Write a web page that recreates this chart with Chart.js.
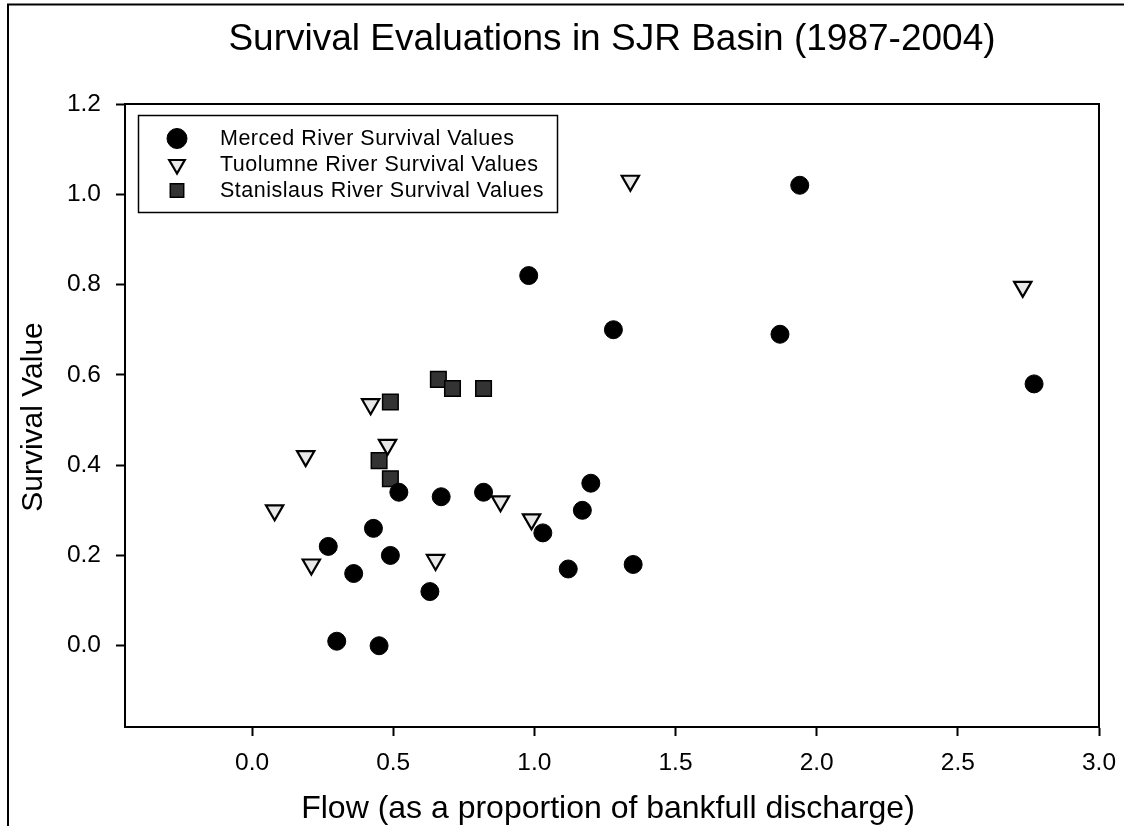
<!DOCTYPE html>
<html>
<head>
<meta charset="utf-8">
<script src="https://cdn.jsdelivr.net/npm/chart.js@4.4.1/dist/chart.umd.min.js"></script>
<style>
  html, body { margin: 0; padding: 0; background: #fff; }
  #c { display: block; }
</style>
</head>
<body>
<canvas id="c" width="1124" height="826"></canvas>
<script>
// ---- Data ----
const chartTitle = "Survival Evaluations in SJR Basin (1987-2004)";
const xTitle = "Flow (as a proportion of bankfull discharge)";
const yTitle = "Survival Value";
const seriesNames = ["Merced River Survival Values", "Tuolumne River Survival Values", "Stanislaus River Survival Values"];

const mercedX = [0.52, 0.67, 0.82, 0.43, 0.27, 0.49, 0.36, 0.63, 0.30, 0.45, 1.28, 1.87, 1.20, 1.17, 1.03, 1.12, 1.35, 1.94, 0.98, 2.77];
const mercedY = [0.34, 0.33, 0.34, 0.26, 0.22, 0.20, 0.16, 0.12, 0.01, 0.00, 0.70, 0.69, 0.36, 0.30, 0.25, 0.17, 0.18, 1.02, 0.82, 0.58];

const tuolumneX = [0.42, 0.48, 0.19, 0.08, 0.21, 0.65, 0.88, 0.99, 1.34, 2.73];
const tuolumneY = [0.535, 0.445, 0.42, 0.30, 0.18, 0.19, 0.32, 0.28, 1.03, 0.795];

const stanislausX = [0.66, 0.71, 0.82, 0.49, 0.45, 0.49];
const stanislausY = [0.59, 0.57, 0.57, 0.54, 0.41, 0.37];

const xTicks = [0.0, 0.5, 1.0, 1.5, 2.0, 2.5, 3.0];
const yTicks = [0.0, 0.2, 0.4, 0.6, 0.8, 1.0, 1.2];
const xRange = [-0.45, 3.0];
const yRange = [-0.18, 1.2];

// ---- Build ----
const pts = (xs, ys) => xs.map((x, i) => ({ x: x, y: ys[i] }));
const FONT = "'Liberation Sans', Arial, Helvetica, sans-serif";

const datasets = [
  { label: seriesNames[0], data: pts(mercedX, mercedY), pointStyle: 'circle', rotation: 0,
    pointRadius: 9, backgroundColor: '#000', borderColor: '#000', borderWidth: 1, legendRadius: 10 },
  { label: seriesNames[1], data: pts(tuolumneX, tuolumneY), pointStyle: 'triangle', rotation: 180,
    pointRadius: 10, backgroundColor: '#e8e8e8', borderColor: '#000', borderWidth: 2.2, legendRadius: 9 },
  { label: seriesNames[2], data: pts(stanislausX, stanislausY), pointStyle: 'rect', rotation: 0,
    pointRadius: 11, backgroundColor: '#333', borderColor: '#000', borderWidth: 1.5, legendRadius: 9.5 }
];
datasets.forEach(d => { d.pointHoverRadius = d.pointRadius; d.showLine = false; });

const decor = {
  id: 'decor',
  beforeDraw(chart) {
    const ctx = chart.ctx;
    ctx.save();
    ctx.fillStyle = '#fff';
    ctx.fillRect(0, 0, chart.width, chart.height);
    // page frame lines (top and left)
    ctx.strokeStyle = '#000';
    ctx.lineWidth = 2;
    ctx.beginPath();
    ctx.moveTo(8, 826); ctx.lineTo(8, 4.5); ctx.lineTo(1124, 4.5);
    ctx.stroke();
    // chart title
    ctx.fillStyle = '#000';
    ctx.font = "37px " + FONT;
    ctx.textAlign = 'center';
    ctx.textBaseline = 'middle';
    ctx.fillText(chartTitle, 612, 40);
    // x axis title
    ctx.font = "32px " + FONT;
    ctx.textBaseline = 'alphabetic';
    ctx.fillText(xTitle, 608, 818);
    // y axis title
    ctx.save();
    ctx.translate(42, 417);
    ctx.rotate(-Math.PI / 2);
    ctx.font = "30px " + FONT;
    ctx.textAlign = 'center';
    ctx.textBaseline = 'alphabetic';
    ctx.fillText(yTitle, 0, 0);
    ctx.restore();
    ctx.restore();
  },
  afterDraw(chart) {
    const ctx = chart.ctx;
    const a = chart.chartArea;
    ctx.save();
    ctx.strokeStyle = '#000';
    ctx.lineWidth = 2;
    ctx.strokeRect(a.left, a.top, a.right - a.left, a.bottom - a.top);
    // legend box
    ctx.lineWidth = 1.5;
    ctx.strokeRect(138.5, 115.5, 419, 97);
    chart.data.datasets.forEach((ds, i) => {
      const y = 138.5 + i * 26;
      ctx.fillStyle = ds.backgroundColor;
      ctx.strokeStyle = ds.borderColor;
      ctx.lineWidth = ds.borderWidth;
      Chart.helpers.drawPoint(ctx, {
        pointStyle: ds.pointStyle, rotation: ds.rotation,
        radius: ds.legendRadius, borderWidth: ds.borderWidth
      }, 177, y);
      ctx.fillStyle = '#000';
      ctx.font = "21.5px " + FONT;
      try { ctx.letterSpacing = '0.5px'; } catch (e) {}
      ctx.textAlign = 'left';
      ctx.textBaseline = 'middle';
      ctx.fillText(ds.label, 220, y + 1);
      try { ctx.letterSpacing = '0px'; } catch (e) {}
    });
    ctx.restore();
  }
};

new Chart(document.getElementById('c'), {
  type: 'scatter',
  data: { datasets: datasets },
  options: {
    responsive: false,
    animation: false,
    devicePixelRatio: 1,
    layout: { padding: { top: 104, right: 25, left: 0, bottom: 0 } },
    plugins: { legend: { display: false }, title: { display: false }, tooltip: { enabled: false } },
    scales: {
      x: {
        type: 'linear', min: xRange[0], max: xRange[1],
        afterBuildTicks: s => { s.ticks = xTicks.map(v => ({ value: v })); },
        afterFit: s => { s.height = 99; s.paddingLeft = 0; s.paddingRight = 0; },
        ticks: { callback: v => Number(v).toFixed(1), color: '#000', padding: 13,
                 font: { family: FONT, size: 24.5 }, maxRotation: 0, autoSkip: false },
        grid: { drawOnChartArea: false, tickLength: 9, tickWidth: 2, tickColor: '#000' },
        border: { color: '#000', width: 2 },
        title: { display: false }
      },
      y: {
        type: 'linear', min: yRange[0], max: yRange[1],
        afterBuildTicks: s => { s.ticks = yTicks.map(v => ({ value: v })); },
        afterFit: s => { s.width = 125; s.paddingTop = 0; s.paddingBottom = 0; },
        ticks: { callback: v => Number(v).toFixed(1), color: '#000', padding: 15,
                 font: { family: FONT, size: 24.5 }, autoSkip: false },
        grid: { drawOnChartArea: false, tickLength: 9, tickWidth: 2, tickColor: '#000' },
        border: { color: '#000', width: 2 },
        title: { display: false }
      }
    }
  },
  plugins: [decor]
});
</script>
</body>
</html>
